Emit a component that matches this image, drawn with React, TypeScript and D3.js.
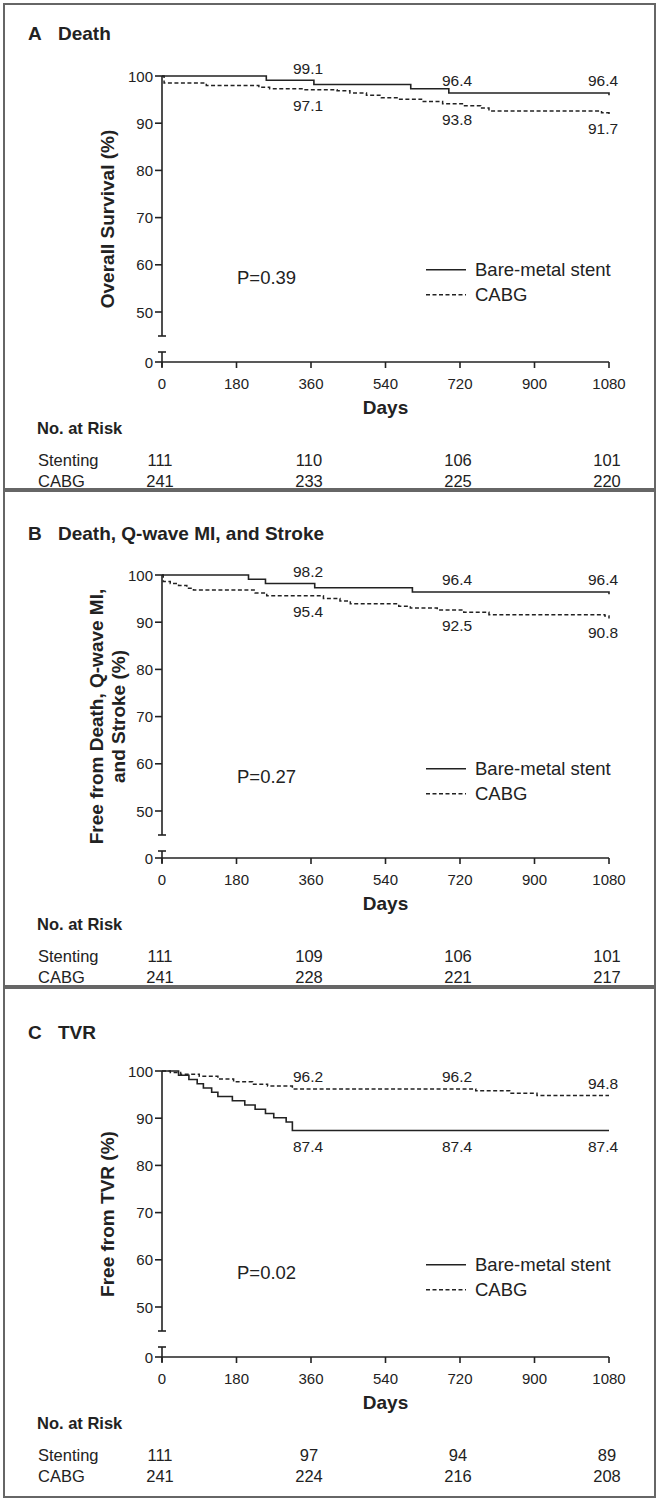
import React from "react";
import * as d3 from "d3";

// ---------- data ----------
const DAY_TICKS = [0, 180, 360, 540, 720, 900, 1080];
const Y_TICKS = [50, 60, 70, 80, 90, 100];
const RISK_DAYS = [0, 360, 720, 1080];
const GROUPS = ["Stenting", "CABG"];
const LEGEND = ["Bare-metal stent", "CABG"];

// Panel A: Death
const A_BMS: [number, number][] = [[0, 100], [252, 99.1], [367, 98.2], [601, 97.3], [693, 96.4], [1080, 95.9]];
const A_CABG: [number, number][] = [[0, 100], [5, 98.5], [107, 98.0], [234, 97.6], [260, 97.3], [341, 97.1], [423, 96.9], [454, 96.4], [494, 95.9], [530, 95.4], [571, 95.1], [627, 94.6], [678, 94.1], [729, 93.7], [770, 93.2], [790, 92.6], [1062, 92.2], [1080, 91.7]];
const A_RISK_BMS = [111, 110, 106, 101];
const A_RISK_CABG = [241, 233, 225, 220];
const A_LABELS_BMS = ["99.1", "96.4", "96.4"];
const A_LABELS_CABG = ["97.1", "93.8", "91.7"];

// Panel B: Death, Q-wave MI, and Stroke
const B_BMS: [number, number][] = [[0, 100], [209, 99.1], [250, 98.2], [369, 97.3], [605, 96.4], [1080, 95.9]];
const B_CABG: [number, number][] = [[0, 100], [3, 98.6], [20, 98.2], [40, 97.8], [60, 97.2], [76, 96.8], [225, 96.2], [253, 95.6], [390, 95.0], [430, 94.5], [455, 93.9], [572, 93.4], [600, 93.0], [665, 92.6], [729, 92.1], [790, 91.6], [1070, 91.3], [1080, 90.8]];
const B_RISK_BMS = [111, 109, 106, 101];
const B_RISK_CABG = [241, 228, 221, 217];
const B_LABELS_BMS = ["98.2", "96.4", "96.4"];
const B_LABELS_CABG = ["95.4", "92.5", "90.8"];

// Panel C: TVR
const C_BMS: [number, number][] = [[0, 100], [40, 99.1], [65, 98.2], [85, 97.3], [100, 96.4], [120, 95.5], [135, 94.6], [170, 93.7], [200, 92.8], [225, 91.9], [250, 91.0], [270, 90.1], [300, 89.2], [315, 87.4], [1080, 87.4]];
const C_CABG: [number, number][] = [[0, 100], [20, 99.7], [45, 99.3], [90, 98.9], [135, 98.3], [173, 97.7], [219, 97.2], [255, 96.8], [315, 96.2], [758, 95.8], [840, 95.3], [906, 94.8], [1080, 94.8]];
const C_RISK_BMS = [111, 97, 94, 89];
const C_RISK_CABG = [241, 224, 216, 208];
const C_LABELS_BMS = ["87.4", "87.4", "87.4"];
const C_LABELS_CABG = ["96.2", "96.2", "94.8"];

const LABEL_DAYS = [360, 720, 1080];

type Panel = {
  letter: string;
  title: string;
  yLabel: string[];
  p: string;
  bms: [number, number][];
  cabg: [number, number][];
  riskBms: number[];
  riskCabg: number[];
  labBms: string[];
  labCabg: string[];
  bmsAbove: boolean;
  box: [number, number];
  titleY: number;
  y100: number;
  y0: number;
};

const PANELS: Panel[] = [
  { letter: "A", title: "Death", yLabel: ["Overall Survival (%)"], p: "P=0.39", bms: A_BMS, cabg: A_CABG, riskBms: A_RISK_BMS, riskCabg: A_RISK_CABG, labBms: A_LABELS_BMS, labCabg: A_LABELS_CABG, bmsAbove: true, box: [4, 489], titleY: 33, y100: 76, y0: 362 },
  { letter: "B", title: "Death, Q-wave MI, and Stroke", yLabel: ["Free from Death, Q-wave MI,", "and Stroke (%)"], p: "P=0.27", bms: B_BMS, cabg: B_CABG, riskBms: B_RISK_BMS, riskCabg: B_RISK_CABG, labBms: B_LABELS_BMS, labCabg: B_LABELS_CABG, bmsAbove: true, box: [491, 986], titleY: 533, y100: 575, y0: 858 },
  { letter: "C", title: "TVR", yLabel: ["Free from TVR (%)"], p: "P=0.02", bms: C_BMS, cabg: C_CABG, riskBms: C_RISK_BMS, riskCabg: C_RISK_CABG, labBms: C_LABELS_BMS, labCabg: C_LABELS_CABG, bmsAbove: false, box: [988, 1497], titleY: 1032, y100: 1071, y0: 1357 },
];

const FONT = "'Liberation Sans', Arial, Helvetica, sans-serif";
const INK = "#222";

const x = d3.scaleLinear().domain([0, 1080]).range([162, 609]);

function PanelView({ pn }: { pn: Panel }) {
  const y = d3.scaleLinear().domain([50, 100]).range([pn.y100 + 236, pn.y100]);
  const line = d3
    .line<[number, number]>()
    .x((d) => x(d[0]))
    .y((d) => y(d[1]))
    .curve(d3.curveStepAfter);
  const y50 = y(50);
  const breakTop = y50 + 24;
  const breakBot = y50 + 40;
  const ax = x(0);
  const plotMid = (pn.y100 + pn.y0) / 2;
  const lineH = 22;
  const legY = y(60) + 5;

  const labelAt = (vals: [number, number][], day: number) => {
    let v = vals[0][1];
    for (const d of vals) if (d[0] <= day) v = d[1];
    return v;
  };

  return (
    <g fontFamily={FONT} fill={INK}>
      <rect x={4} y={pn.box[0]} width={651} height={pn.box[1] - pn.box[0]} fill="none" stroke="#666" strokeWidth={2} />
      <text x={28} y={pn.titleY} dominantBaseline="central" fontWeight="bold" fontSize={19}>{pn.letter}</text>
      <text x={58} y={pn.titleY} dominantBaseline="central" fontWeight="bold" fontSize={19}>{pn.title}</text>

      {/* y axis */}
      <line x1={ax} x2={ax} y1={pn.y100} y2={breakTop} stroke={INK} strokeWidth={1.6} />
      <line x1={ax - 4} x2={ax + 4} y1={breakTop} y2={breakTop} stroke={INK} strokeWidth={1.6} />
      <line x1={ax} x2={ax} y1={breakBot} y2={pn.y0 + 5} stroke={INK} strokeWidth={1.6} />
      <line x1={ax - 4} x2={ax + 4} y1={breakBot} y2={breakBot} stroke={INK} strokeWidth={1.6} />
      {Y_TICKS.map((t) => (
        <g key={t}>
          <line x1={ax - 7} x2={ax} y1={y(t)} y2={y(t)} stroke={INK} strokeWidth={1.6} />
          <text x={ax - 9} y={y(t)} textAnchor="end" dominantBaseline="central" fontSize={15}>{t}</text>
        </g>
      ))}
      <line x1={ax - 7} x2={ax} y1={pn.y0} y2={pn.y0} stroke={INK} strokeWidth={1.6} />
      <text x={ax - 9} y={pn.y0} textAnchor="end" dominantBaseline="central" fontSize={15}>0</text>

      {/* x axis */}
      <line x1={ax} x2={x(1080)} y1={pn.y0} y2={pn.y0} stroke={INK} strokeWidth={1.6} />
      {DAY_TICKS.map((t) => (
        <g key={t}>
          <line x1={x(t)} x2={x(t)} y1={pn.y0} y2={pn.y0 + 6} stroke={INK} strokeWidth={1.6} />
          <text x={x(t)} y={pn.y0 + 21} textAnchor="middle" dominantBaseline="central" fontSize={15}>{t}</text>
        </g>
      ))}
      <text x={(x(0) + x(1080)) / 2} y={pn.y0 + 45} textAnchor="middle" dominantBaseline="central" fontWeight="bold" fontSize={19}>Days</text>

      {/* y label */}
      {pn.yLabel.map((s, i) => {
        const cx = 107 + (i - (pn.yLabel.length - 1) / 2) * lineH;
        return (
          <text key={i} transform={`translate(${cx},${plotMid}) rotate(-90)`} textAnchor="middle" dominantBaseline="central" fontWeight="bold" fontSize={19}>{s}</text>
        );
      })}

      {/* curves */}
      <path d={line(pn.cabg) || ""} fill="none" stroke={INK} strokeWidth={1.5} strokeDasharray="4 2.5" />
      <path d={line(pn.bms) || ""} fill="none" stroke={INK} strokeWidth={1.6} />

      {/* value labels */}
      {LABEL_DAYS.map((d, i) => {
        const vb = labelAt(pn.bms, d === 1080 ? 1079 : d);
        const vc = labelAt(pn.cabg, d === 1080 ? 1079 : d);
        const cxl = x(d) - (d === 1080 ? 6 : 3);
        const yb = pn.bmsAbove ? y(vb) - 12 : y(vb) + 16;
        const yc = pn.bmsAbove ? y(vc) + 16 : y(vc) - 12;
        return (
          <g key={d}>
            <text x={cxl} y={yb} textAnchor="middle" dominantBaseline="central" fontSize={15.5}>{pn.labBms[i]}</text>
            <text x={cxl} y={yc} textAnchor="middle" dominantBaseline="central" fontSize={15.5}>{pn.labCabg[i]}</text>
          </g>
        );
      })}

      {/* P value & legend */}
      <text x={237} y={y(60) + 13} dominantBaseline="central" fontSize={18.5}>{pn.p}</text>
      <line x1={426} x2={466} y1={legY} y2={legY} stroke={INK} strokeWidth={1.6} />
      <text x={475} y={legY} dominantBaseline="central" fontSize={18.5}>{LEGEND[0]}</text>
      <line x1={426} x2={466} y1={legY + 25} y2={legY + 25} stroke={INK} strokeWidth={1.5} strokeDasharray="4 2.5" />
      <text x={475} y={legY + 25} dominantBaseline="central" fontSize={18.5}>{LEGEND[1]}</text>

      {/* at-risk table */}
      <text x={37} y={pn.y0 + 66} dominantBaseline="central" fontWeight="bold" fontSize={16.5}>No. at Risk</text>
      {[pn.riskBms, pn.riskCabg].map((row, r) => (
        <g key={r}>
          <text x={38} y={pn.y0 + 98 + r * 21} dominantBaseline="central" fontSize={16.5}>{GROUPS[r]}</text>
          {row.map((v, i) => (
            <text key={i} x={x(RISK_DAYS[i]) - 2} y={pn.y0 + 98 + r * 21} textAnchor="middle" dominantBaseline="central" fontSize={16.5}>{v}</text>
          ))}
        </g>
      ))}
    </g>
  );
}

export default function App() {
  return (
    <svg width={660} height={1501} style={{ position: "absolute", left: 0, top: 0, background: "#fff" }}>
      <rect width={660} height={1501} fill="#fff" />
      {PANELS.map((pn) => (
        <PanelView key={pn.letter} pn={pn} />
      ))}
    </svg>
  );
}
